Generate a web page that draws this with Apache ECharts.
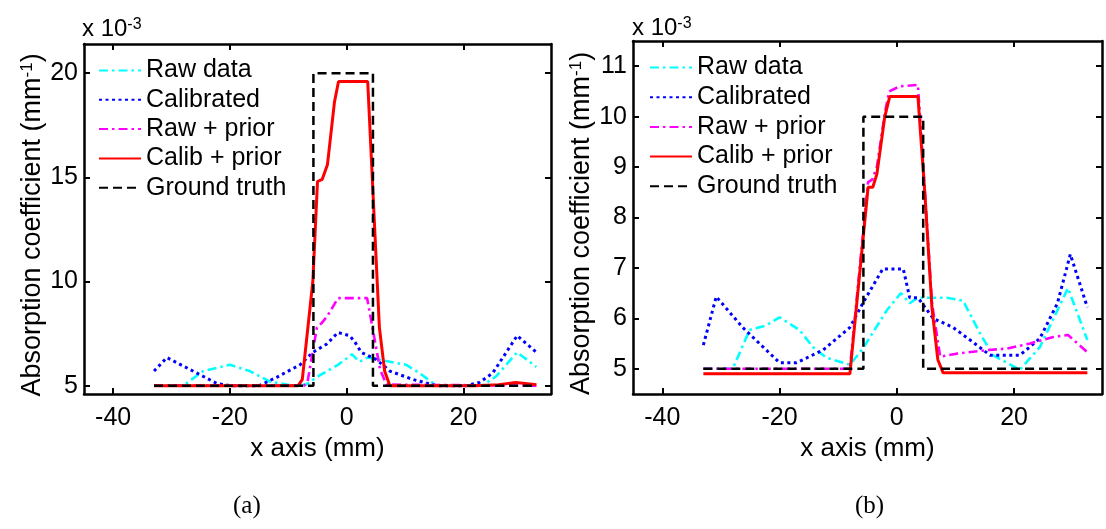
<!DOCTYPE html>
<html>
<head>
<meta charset="utf-8">
<script src="https://cdn.jsdelivr.net/npm/echarts@6/dist/echarts.min.js"></script>
<style>
html,body{margin:0;padding:0;background:#fff;}
#chart{width:1106px;height:529px;}
</style>
</head>
<body>
<div id="chart"></div>
<script>
// ---------- data (values in units of 1e-3 mm^-1) ----------
const seriesNames = ['Raw data', 'Calibrated', 'Raw + prior', 'Calib + prior', 'Ground truth'];
const xTicks = [-40, -20, 0, 20];
const yTicksA = [5, 10, 15, 20];
const yTicksB = [5, 6, 7, 8, 9, 10, 11];

// panel (a)
const rawA_x = [-33, -28, -24.6, -20, -16.6, -13.2, -9.2, -7.0, -4.6, -1.5, 0.9, 2.2, 3.6, 7.4, 10.2, 12.5, 15.4, 23.2, 25.6, 29.2, 32.5];
const rawA_y = [5, 5, 5.7, 6.0, 5.7, 5.2, 5.0, 5.05, 5.5, 6.0, 6.5, 6.15, 6.35, 6.15, 6.0, 5.6, 5.0, 5.0, 5.45, 6.6, 5.9];
const calA_x = [-33, -30.8, -22.2, -20, -15, -12, -8, -5.8, -3.4, -1.5, 0.5, 1.4, 2.5, 5.1, 7.4, 11.3, 15.4, 20.5, 22.7, 25, 29.2, 32.5];
const calA_y = [5.7, 6.35, 5.1, 5.0, 5.0, 5.4, 6.0, 6.6, 7.0, 7.55, 7.4, 7.1, 6.6, 6.25, 5.7, 5.3, 5.0, 5.0, 5.15, 5.6, 7.4, 6.6];
const rawPriorA_x = [-33, -7.3, -6.7, -5.1, -4.3, -3.4, -1.5, 3.5, 4.8, 5.7, 6.8, 32.5];
const rawPriorA_y = [5, 5, 5.2, 7.8, 8.0, 8.3, 9.2, 9.2, 7.2, 5.8, 5.05, 5.0];
const calPriorA_x = [-33, -8.3, -7.6, -5.8, -5.0, -4.2, -3.3, -2.1, -1.4, 3.6, 5.6, 6.5, 7.4, 22, 26, 29, 32.5];
const calPriorA_y = [5, 5, 5.3, 10, 14.8, 14.9, 15.6, 18.6, 19.6, 19.6, 7.8, 5.7, 5.0, 5.0, 5.05, 5.15, 5.05];
const truthA_x = [-33, -5.7, -5.7, 4.5, 4.5, 32.5];
const truthA_y = [5, 5, 20, 20, 5, 5];

// panel (b)
const rawB_x = [-33, -28, -25.1, -22.3, -20, -16.6, -14.3, -12, -8, -5.8, -1.7, 0.7, 2.2, 3.6, 8.5, 11.3, 14.2, 16.4, 21, 24.4, 29.2, 32.5];
const rawB_y = [5.0, 5.0, 5.77, 5.86, 6.02, 5.77, 5.43, 5.22, 5.08, 5.4, 6.16, 6.5, 6.3, 6.41, 6.41, 6.35, 5.7, 5.27, 4.98, 5.43, 6.6, 5.57];
const calB_x = [-33, -30.8, -26.3, -20, -17.1, -12.6, -8.0, -5.8, -2.4, 1.1, 2.2, 3.6, 6.2, 9.6, 12.5, 15.9, 21.0, 24.4, 27.4, 29.6, 32.5];
const calB_y = [5.47, 6.43, 5.82, 5.12, 5.12, 5.37, 5.82, 6.3, 6.98, 6.98, 6.41, 6.41, 6.0, 5.82, 5.57, 5.27, 5.27, 5.6, 6.3, 7.27, 6.22];
const rawPriorB_x = [-33, -8.0, -4.9, -4.2, -3.4, -2.0, -1.3, 0.5, 3.6, 4.8, 6.0, 7.4, 10.2, 15.3, 18.8, 22.7, 26.7, 29.2, 32.5];
const rawPriorB_y = [5.0, 5.0, 8.7, 8.75, 9.0, 10.1, 10.5, 10.6, 10.63, 8.5, 6.3, 5.24, 5.3, 5.37, 5.4, 5.5, 5.63, 5.67, 5.33];
const calPriorB_x = [-33, -8.0, -4.9, -4.1, -3.4, -2.05, -1.2, 3.6, 4.8, 6.0, 7.0, 7.9, 32.5];
const calPriorB_y = [4.9, 4.9, 8.6, 8.6, 8.86, 10.0, 10.4, 10.4, 8.45, 6.2, 5.18, 4.92, 4.92];
const truthB_x = [-33, -5.7, -5.7, 4.5, 4.5, 32.5];
const truthB_y = [5, 5, 10, 10, 5, 5];

// ---------- styling ----------
const FONT = 'Liberation Sans, Arial, sans-serif';
const colors = ['#00FFFF', '#0000FF', '#FF00FF', '#FF0000', '#000000'];
const dashes = [[9, 4, 2.5, 4], [3, 3.5], [9, 4, 2.5, 4], 'solid', [9, 5]];
const widths = [2.6, 3, 2.6, 3, 2.5];

function pairs(xs, ys) { return xs.map((x, i) => [x, ys[i]]); }

const panels = [
  { grid: { left: 84, top: 44, width: 467, height: 350 }, ymin: 4.6, ymax: 21.4, yTicks: yTicksA,
    data: [pairs(rawA_x, rawA_y), pairs(calA_x, calA_y), pairs(rawPriorA_x, rawPriorA_y), pairs(calPriorA_x, calPriorA_y), pairs(truthA_x, truthA_y)] },
  { grid: { left: 633, top: 41, width: 469, height: 353 }, ymin: 4.5, ymax: 11.5, yTicks: yTicksB,
    data: [pairs(rawB_x, rawB_y), pairs(calB_x, calB_y), pairs(rawPriorB_x, rawPriorB_y), pairs(calPriorB_x, calPriorB_y), pairs(truthB_x, truthB_y)] }
];

const axisLine = { show: true, onZero: false, lineStyle: { color: '#000', width: 2.5 } };
const xAxes = [], yAxes = [], series = [], grids = [];
panels.forEach((p, gi) => {
  grids.push(Object.assign({ containLabel: false }, p.grid));
  ['bottom', 'top'].forEach((pos, k) => {
    xAxes.push({
      type: 'value', gridIndex: gi, position: pos, min: -45, max: 35,
      axisLine: axisLine, splitLine: { show: false },
      axisTick: { show: true, inside: true, length: 6, lineStyle: { color: '#000', width: 2 }, customValues: xTicks },
      axisLabel: { show: k === 0, customValues: xTicks, margin: 12, color: '#000', fontSize: 25, fontFamily: FONT },
      name: k === 0 ? 'x axis (mm)' : '', nameLocation: 'middle', nameGap: 41,
      nameTextStyle: { color: '#000', fontSize: 26, fontFamily: FONT }
    });
  });
  ['left', 'right'].forEach((pos, k) => {
    yAxes.push({
      type: 'value', gridIndex: gi, position: pos, min: p.ymin, max: p.ymax,
      axisLine: axisLine, splitLine: { show: false },
      axisTick: { show: true, inside: true, length: 6, lineStyle: { color: '#000', width: 2 }, customValues: p.yTicks },
      axisLabel: { show: k === 0, customValues: p.yTicks, margin: 6, color: '#000', fontSize: 25, fontFamily: FONT },
      name: k === 0 ? 'Absorption coefficient (mm{sup|-1})' : '', nameLocation: 'middle', nameGap: 38,
      nameTextStyle: { color: '#000', fontSize: 27, fontFamily: FONT, padding: [0, 12, 0, 0],
        rich: { sup: { fontSize: 17, fontFamily: FONT, color: '#000', verticalAlign: 'top', padding: [0, 0, 10, 0] } } }
    });
  });
  p.data.forEach((d, si) => {
    series.push({
      type: 'line', name: seriesNames[si], xAxisIndex: gi * 2, yAxisIndex: gi * 2,
      data: d, symbol: 'none', showSymbol: false, silent: true, z: 2 + si,
      lineStyle: { color: colors[si], width: widths[si], type: dashes[si] },
      itemStyle: { color: colors[si] }
    });
  });
});

function legendAt(left, top, gap) {
  return {
    data: seriesNames, orient: 'vertical', left: left, top: top, padding: 0,
    itemWidth: 42, itemHeight: 14, itemGap: gap, selectedMode: false,
    itemStyle: { opacity: 0, borderWidth: 0 },
    textStyle: { color: '#000', fontSize: 25, fontFamily: FONT }
  };
}

const supRich = { sup: { fontSize: 16, fontFamily: FONT, fill: '#000', verticalAlign: 'top', padding: [0, 0, 9, 0] } };
const option = {
  animation: false,
  backgroundColor: '#fff',
  grid: grids,
  xAxis: xAxes,
  yAxis: yAxes,
  legend: [legendAt(98, 58, 4.3), legendAt(649, 55, 4.7)],
  series: series,
  graphic: [
    { type: 'text', left: 82, top: 17, style: { text: 'x 10{sup|-3}', fontSize: 24, fontFamily: FONT, fill: '#000', rich: supRich } },
    { type: 'text', left: 632, top: 16, style: { text: 'x 10{sup|-3}', fontSize: 24, fontFamily: FONT, fill: '#000', rich: supRich } },
    { type: 'text', left: 233, top: 494, style: { text: '(a)', fontSize: 25, fontFamily: 'Liberation Serif, Times New Roman, serif', fill: '#000' } },
    { type: 'text', left: 855, top: 494, style: { text: '(b)', fontSize: 25, fontFamily: 'Liberation Serif, Times New Roman, serif', fill: '#000' } }
  ]
};

const chart = echarts.init(document.getElementById('chart'), null, { renderer: 'canvas' });
chart.setOption(option);
</script>
</body>
</html>
